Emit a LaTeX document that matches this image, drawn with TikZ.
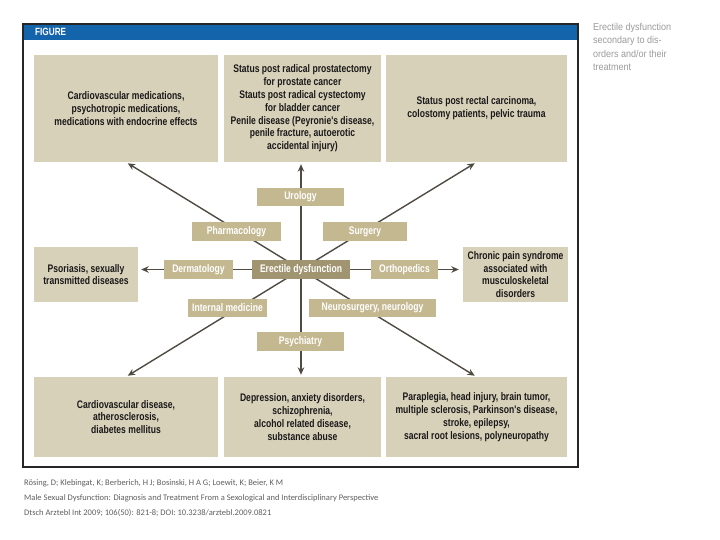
\documentclass[tikz,border=0pt]{standalone}
\usepackage{fontspec}
\setmainfont{Liberation Sans}
\newfontfamily\cond[FakeStretch=0.78]{Liberation Sans}
\newfontfamily\side[FakeStretch=0.9]{Liberation Sans}
\newfontfamily\foot{Carlito}
\usetikzlibrary{backgrounds,arrows.meta}
\definecolor{tanbox}{HTML}{D8D1BA}
\definecolor{midbox}{HTML}{C4B891}
\definecolor{edbox}{HTML}{A09570}
\definecolor{linec}{HTML}{4F4B42}
\definecolor{hdrblue}{HTML}{1464AC}
\definecolor{sidegray}{HTML}{9A9A9A}
\definecolor{footgray}{HTML}{5E5E5E}
\begin{document}
\begin{tikzpicture}[x=1pt,y=-1pt,
  bigbox/.style={fill=tanbox, inner sep=0pt, align=center, text=black!90,
    font={\cond\bfseries\fontsize{11}{12.8}\selectfont}},
  midnode/.style={fill=midbox, inner sep=0pt, minimum height=18.5pt, text=white,
    font={\cond\bfseries\fontsize{11}{12}\selectfont}},
  conn/.style={draw=linec, line width=1.4pt},
  arr/.style={conn, -{Stealth[length=7.5pt,width=6.5pt]}}]
\useasboundingbox (0,0) rectangle (720,540);
% frame and header
\fill[hdrblue] (23,24) rectangle (578,40);
\draw[black!85, line width=1.3pt] (23,24) rectangle (578,467);
\node[anchor=west, text=white, inner sep=0pt, font={\cond\bfseries\fontsize{10.5}{11}\selectfont}] (hdr) at (35,32) {FIGURE};
% side caption
\node[anchor=north west, inner sep=0pt, align=left, text=sidegray,
  font={\side\fontsize{10}{13.5}\selectfont}] (cap) at (593,23)
  {Erectile dysfunction\\secondary to dis-\\orders and/or their\\treatment};
% large boxes
\node[bigbox, minimum width=184pt, minimum height=107pt] (tl) at (126,108.5)
  {Cardiovascular medications,\\psychotropic medications,\\medications with endocrine effects};
\node[bigbox, minimum width=157pt, minimum height=107pt] (tm) at (302.5,108.5)
  {Status post radical prostatectomy\\for prostate cancer\\Stauts post radical cystectomy\\for bladder cancer\\Penile disease (Peyronie's disease,\\penile fracture, autoerotic\\accidental injury)};
\node[bigbox, minimum width=181pt, minimum height=107pt] (tr) at (476.5,108.5)
  {Status post rectal carcinoma,\\colostomy patients, pelvic trauma};
\node[bigbox, minimum width=104pt, minimum height=55pt] (pso) at (86,274.5)
  {Psoriasis, sexually\\transmitted diseases};
\node[bigbox, minimum width=105pt, minimum height=55pt] (chr) at (515.5,274.5)
  {Chronic pain syndrome\\associated with\\musculoskeletal\\disorders};
\node[bigbox, minimum width=184pt, minimum height=80pt] (bl) at (126,417)
  {Cardiovascular disease,\\atherosclerosis,\\diabetes mellitus};
\node[bigbox, minimum width=157pt, minimum height=80pt] (bm) at (302.5,417)
  {Depression, anxiety disorders,\\schizophrenia,\\alcohol related disease,\\substance abuse};
\node[bigbox, minimum width=181pt, minimum height=80pt] (br) at (476.5,417)
  {Paraplegia, head injury, brain tumor,\\multiple sclerosis, Parkinson's disease,\\stroke, epilepsy,\\sacral root lesions, polyneuropathy};
% intermediate boxes
\node[midnode, minimum width=87pt] (uro) at (300.5,197) {Urology};
\node[midnode, minimum width=89pt] (pha) at (236.5,231.5) {Pharmacology};
\node[midnode, minimum width=84pt] (sur) at (365,231.5) {Surgery};
\node[midnode, minimum width=69pt] (der) at (198.5,269.5) {Dermatology};
\node[midnode, minimum width=98pt, fill=edbox] (ed) at (301,269.5) {Erectile dysfunction};
\node[midnode, minimum width=67pt] (ort) at (404.5,269.5) {Orthopedics};
\node[midnode, minimum width=79pt] (int) at (227.5,308) {Internal medicine};
\node[midnode, minimum width=127pt] (neu) at (372.5,308) {Neurosurgery, neurology};
\node[midnode, minimum width=87pt] (psy) at (300.5,341.5) {Psychiatry};
% connectors behind boxes
\begin{scope}[on background layer]
\draw[arr, shorten >=2pt] (ed.center) -- (tl.south);
\draw[arr, shorten >=2pt] (ed.center) -- (tm.south -| ed.center);
\draw[arr, shorten >=2pt] (ed.center) -- (tr.south);
\draw[arr, shorten >=3pt] (ed.center) -- (pso.east |- ed.center);
\draw[arr, shorten >=4pt] (ed.center) -- (chr.west |- ed.center);
\draw[arr, shorten >=2pt] (ed.center) -- (bl.north);
\draw[arr, shorten >=2pt] (ed.center) -- (bm.north -| ed.center);
\draw[arr, shorten >=2pt] (ed.center) -- (br.north);
\end{scope}
% footer
\node[anchor=north west, inner sep=0pt, align=left, text=footgray,
  font={\foot\fontsize{8.5}{15}\selectfont}] (ref) at (24,479)
  {Rösing, D; Klebingat, K; Berberich, H J; Bosinski, H A G; Loewit, K; Beier, K M\\
   Male Sexual Dysfunction: Diagnosis and Treatment From a Sexological and Interdisciplinary Perspective\\
   Dtsch Arztebl Int 2009; 106(50): 821-8; DOI: 10.3238/arztebl.2009.0821};
\end{tikzpicture}
\end{document}
